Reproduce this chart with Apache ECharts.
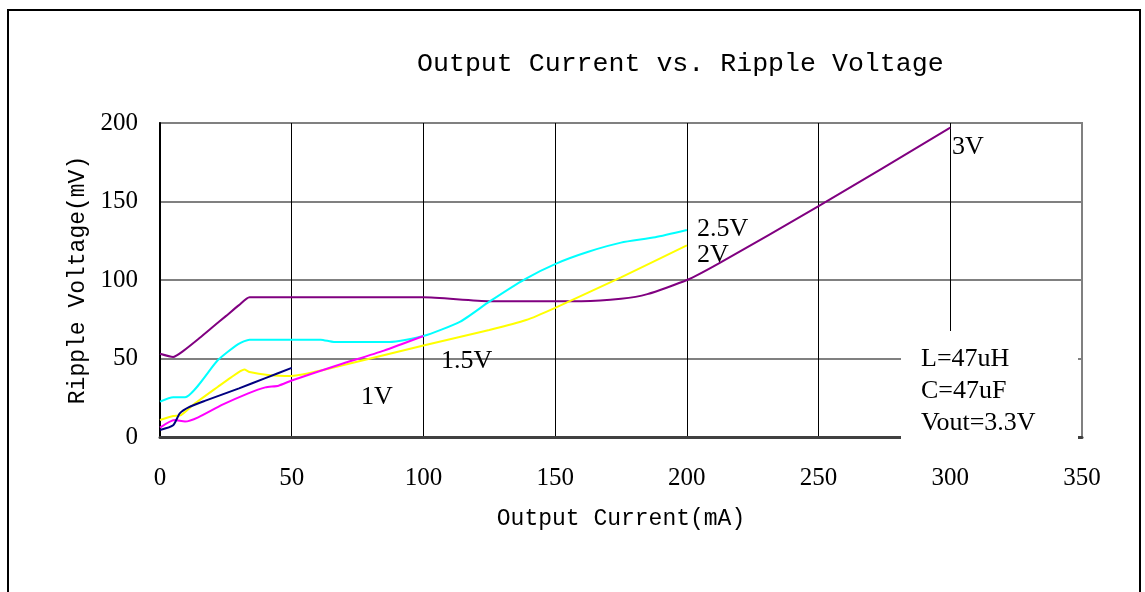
<!DOCTYPE html>
<html>
<head>
<meta charset="UTF-8">
<title>Output Current vs. Ripple Voltage</title>
<script type="text/javascript" src="https://cdn.jsdelivr.net/npm/echarts@6/dist/echarts.min.js"></script>
<style>
  html, body { margin: 0; padding: 0; background: #fff; }
</style>
</head>
<body>

    <div id="main" style="width: 1145px; height: 592px;"></div>
    <script type="text/javascript">
        // data (mA -> mV)
        var current3V  = [0, 5, 9, 15, 20, 25, 30, 34, 100, 125, 160, 175, 185, 200, 212, 250, 300];
        var ripple3V   = [53, 51, 55, 63, 70, 77, 84, 89, 89, 86.5, 86.5, 88, 91, 100, 110.5, 147, 197];

        var current25V = [0, 5, 9.5, 22, 29.7, 34, 61, 66, 87, 100, 114, 125, 138.6, 150.6, 162.6, 175, 188, 200];
        var ripple25V  = [22.5, 25.3, 25.3, 49, 59.2, 62, 62, 60.5, 60.5, 64.3, 73.5, 86.2, 100.6, 110.6, 118, 123.8, 127.2, 131.8];

        var current2V  = [0, 5, 8, 13, 22, 27, 32, 34, 41, 50, 62, 100, 125, 139, 150, 175, 200];
        var ripple2V   = [10.8, 13.4, 14, 21, 32, 38, 43, 41.4, 39.5, 38.9, 42.7, 58.3, 68.2, 74.5, 82.3, 101.7, 122];

        var current15V = [0, 5.5, 9.5, 14.5, 23.5, 33.5, 40, 45, 50, 68, 85, 100];
        var ripple15V  = [6, 10.8, 9.8, 12.5, 20.4, 27.8, 31.6, 32.7, 36, 46, 55, 64.3];

        var current1V  = [0, 5, 7.5, 11, 17, 30, 40, 50];
        var ripple1V   = [4.5, 7.5, 15, 19, 23, 31, 37.5, 44];

        var xTicks = [0, 50, 100, 150, 200, 250, 300, 350];
        var yTicks = [0, 50, 100, 150, 200];

        var serif = '"Liberation Serif", "Times New Roman", serif';
        var mono = '"Liberation Mono", "DejaVu Sans Mono", monospace';

        function pairs(xs, ys) {
            return xs.map(function (x, i) { return [x, ys[i]]; });
        }

        function line(name, color, xs, ys) {
            return {
                name: name,
                type: 'line',
                data: pairs(xs, ys),
                showSymbol: false,
                smooth: 0.2,
                lineStyle: { color: color, width: 2 },
                z: 3
            };
        }

        function label(text, x, y) {
            return {
                type: 'text', left: x, top: y, z: 110,
                style: { text: text, font: '26px ' + serif, fill: '#000' }
            };
        }

        var myChart = echarts.init(document.getElementById('main'));

        var option = {
            animation: false,
            title: {
                text: 'Output Current vs. Ripple Voltage',
                left: 412,
                top: 45,
                textStyle: { fontFamily: mono, fontSize: 26.6, fontWeight: 'normal', color: '#000' }
            },
            grid: {
                left: 160, right: 63, top: 123, bottom: 155,
                show: true, borderColor: '#808080', borderWidth: 2
            },
            xAxis: {
                type: 'value',
                min: xTicks[0], max: xTicks[xTicks.length - 1], interval: 50,
                name: 'Output Current(mA)',
                nameLocation: 'middle',
                nameGap: 70,
                nameTextStyle: { fontFamily: mono, fontSize: 23, color: '#000' },
                axisLine: { lineStyle: { color: '#404040', width: 3 } },
                axisTick: { show: false },
                axisLabel: { margin: 29, fontFamily: serif, fontSize: 25, color: '#000' },
                splitLine: { show: true, showMinLine: false, showMaxLine: false,
                             lineStyle: { color: '#000', width: 1 } }
            },
            yAxis: {
                type: 'value',
                min: yTicks[0], max: yTicks[yTicks.length - 1], interval: 50,
                name: 'Ripple Voltage(mV)',
                nameLocation: 'middle',
                nameGap: 68,
                nameTextStyle: { fontFamily: mono, fontSize: 23, color: '#000' },
                axisLine: { lineStyle: { color: '#000', width: 2 } },
                axisTick: { show: false },
                axisLabel: { margin: 22, fontFamily: serif, fontSize: 25, color: '#000' },
                splitLine: { show: true, lineStyle: { color: '#808080', width: 2 } }
            },
            series: [
                line('3V', '#800080', current3V, ripple3V),
                line('2.5V', '#00FFFF', current25V, ripple25V),
                line('2V', '#FFFF00', current2V, ripple2V),
                line('1.5V', '#FF00FF', current15V, ripple15V),
                line('1V', '#000080', current1V, ripple1V)
            ],
            graphic: [
                {
                    type: 'rect', z: 0, silent: true,
                    shape: { x: 8, y: 10, width: 1132, height: 600 },
                    style: { fill: 'none', stroke: '#000', lineWidth: 2 }
                },
                {
                    type: 'rect', z: 100, silent: true,
                    shape: { x: 901, y: 331, width: 177, height: 108 },
                    style: { fill: '#fff' }
                },
                {
                    type: 'text', left: 921, top: 343, z: 110,
                    style: { text: 'L=47uH\nC=47uF\nVout=3.3V', font: '26px ' + serif,
                             lineHeight: 32, fill: '#000' }
                },
                label('1V', 361, 384),
                label('1.5V', 441, 348),
                label('2.5V', 697, 216),
                label('2V', 697, 242),
                label('3V', 952, 134)
            ]
        };

        myChart.setOption(option);
    </script>
</body>
</html>
